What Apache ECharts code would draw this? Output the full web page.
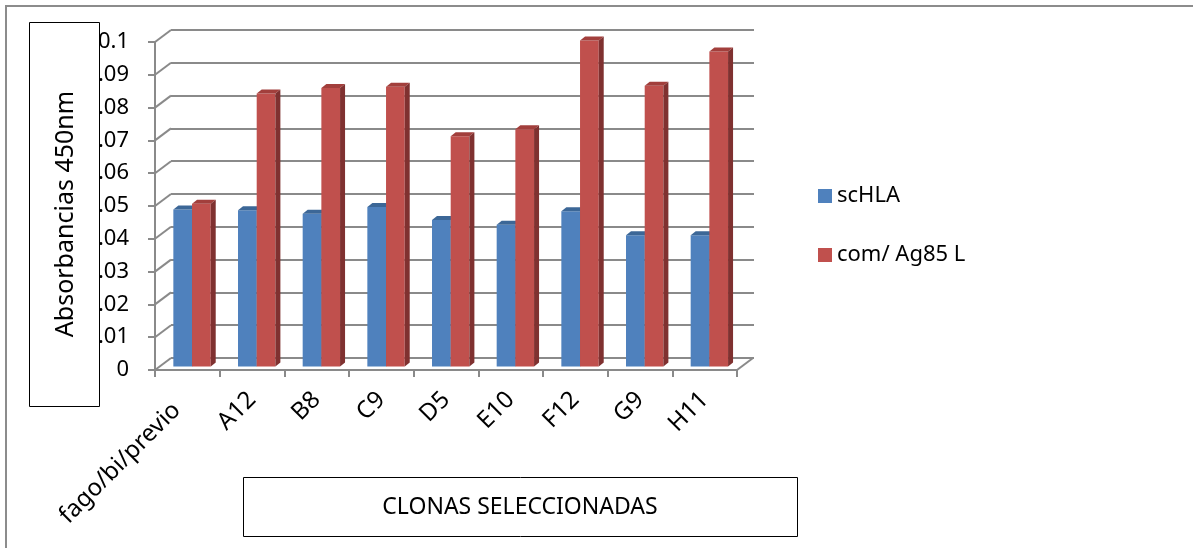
<!DOCTYPE html>
<html>
<head>
<meta charset="utf-8">
<script src="https://cdn.jsdelivr.net/npm/echarts@6/dist/echarts.min.js"></script>
<style>
  html, body { margin: 0; padding: 0; background: #fff; }
  #chart { width: 1193px; height: 548px; }
</style>
</head>
<body>
<div id="chart"></div>
<script>
// Absorbance at 450 nm for each selected clone
const categories = ['fago/bi/previo', 'A12', 'B8', 'C9', 'D5', 'E10', 'F12', 'G9', 'H11'];
const scHLA = [0.0479, 0.0476, 0.0466, 0.0486, 0.0447, 0.0432, 0.0473, 0.0400, 0.0400];
const ag85L = [0.0496, 0.0832, 0.0849, 0.0853, 0.0702, 0.0723, 0.0994, 0.0856, 0.0960];
const yTicks = [0, 0.01, 0.02, 0.03, 0.04, 0.05, 0.06, 0.07, 0.08, 0.09, 0.1];
const seriesNames = ['scHLA', 'com/ Ag85 L'];

const FONT = '"Noto Sans", "Open Sans", sans-serif';
const GRID_COLOR = '#8a8a8a';

// 3D depth of the plot box (back wall offset) and of each column
const WALL_DX = 16, WALL_DY = -12;
const BAR_SHIFT_X = 4.7, BAR_SHIFT_Y = -3.5;  // columns sit a little behind the front plane
const BAR_DX = 5, BAR_DY = -4;                // visible depth of each column

const palettes = [
  { front: '#4f81bd', top: '#3c6797', side: '#385d8a' },
  { front: '#c0504d', top: '#a23f3c', side: '#7f3130' }
];

function columnRenderer(slot, pal) {
  return function (params, api) {
    const cat = api.value(0);
    const v = api.value(1);
    const band = api.size([1, 0])[0];
    const w = band * 0.289;
    const c = api.coord([cat, v]);
    const b = api.coord([cat, 0]);
    const x0 = c[0] + (slot === 0 ? -w : 0) + BAR_SHIFT_X;
    const top = c[1] + BAR_SHIFT_Y;
    const base = b[1] + BAR_SHIFT_Y;
    return {
      type: 'group',
      children: [
        { type: 'rect', shape: { x: x0, y: top, width: w, height: base - top },
          style: { fill: pal.front } },
        { type: 'polygon', shape: { points: [[x0, top], [x0 + w, top], [x0 + w + BAR_DX, top + BAR_DY], [x0 + BAR_DX, top + BAR_DY]] },
          style: { fill: pal.top } },
        { type: 'polygon', shape: { points: [[x0 + w, top], [x0 + w + BAR_DX, top + BAR_DY], [x0 + w + BAR_DX, base + BAR_DY], [x0 + w, base]] },
          style: { fill: pal.side } }
      ]
    };
  };
}

// Short receding edges joining the front axis to the back wall
function edgeRenderer(side) {
  return function (params, api) {
    const c = api.coord([api.value(0), api.value(1)]);
    const half = api.size([1, 0])[0] / 2;
    const x = c[0] + (side === 'left' ? -half : half);
    return {
      type: 'line',
      shape: { x1: x, y1: c[1], x2: x + WALL_DX, y2: c[1] + WALL_DY },
      style: { stroke: GRID_COLOR, lineWidth: 2 }
    };
  };
}

const yLabel = v => (v === 0 ? '0' : String(Math.round(v * 100) / 100));

const chart = echarts.init(document.getElementById('chart'), null, { renderer: 'canvas' });

chart.setOption({
  animation: false,
  backgroundColor: '#ffffff',
  textStyle: { fontFamily: FONT },
  grid: [
    { left: 155, top: 42, width: 582, height: 328 },                          // front plane
    { left: 155 + WALL_DX, top: 42 + WALL_DY, width: 583, height: 328 }       // back wall
  ],
  xAxis: [
    {
      type: 'category', gridIndex: 0, boundaryGap: true,
      data: categories.map((c, i) => (i === 0 ? { value: c, textStyle: { padding: [0, 15, 0, 0] } } : c)),
      axisLine: { show: true, lineStyle: { color: GRID_COLOR, width: 2 } },
      axisTick: { show: true, interval: 0, length: 7, lineStyle: { color: GRID_COLOR, width: 2 } },
      axisLabel: { interval: 0, rotate: 45, margin: 26, color: '#000', fontSize: 24, fontFamily: FONT },
      splitLine: { show: false }
    },
    {
      type: 'category', gridIndex: 1, boundaryGap: true, data: categories,
      axisLine: { show: false }, axisTick: { show: false }, axisLabel: { show: false }, splitLine: { show: false }
    }
  ],
  yAxis: [
    {
      type: 'value', gridIndex: 0, min: 0, max: 0.1, interval: 0.01,
      axisLine: { show: true, lineStyle: { color: GRID_COLOR, width: 2 } },
      axisTick: { show: true, length: 7, lineStyle: { color: GRID_COLOR, width: 2 } },
      axisLabel: { margin: 26, color: '#000', fontSize: 22, fontFamily: FONT, formatter: yLabel },
      splitLine: { show: false }
    },
    {
      type: 'value', gridIndex: 1, min: 0, max: 0.1, interval: 0.01,
      axisLine: { show: false }, axisTick: { show: false }, axisLabel: { show: false },
      splitLine: { show: true, lineStyle: { color: GRID_COLOR, width: 2 } }
    }
  ],
  legend: {
    orient: 'vertical', left: 813, top: 178, itemWidth: 14, itemHeight: 14, itemGap: 33,
    icon: 'rect', data: seriesNames,
    textStyle: { color: '#000', fontSize: 22, fontFamily: FONT, lineHeight: 26 }
  },
  series: [
    {
      type: 'custom', name: 'edgesLeft', xAxisIndex: 0, yAxisIndex: 0, silent: true, z: 1,
      data: yTicks.map(v => [0, v]), renderItem: edgeRenderer('left')
    },
    {
      type: 'custom', name: 'edgeRight', xAxisIndex: 0, yAxisIndex: 0, silent: true, z: 1,
      data: [[categories.length - 1, 0]], renderItem: edgeRenderer('right')
    },
    {
      type: 'custom', name: seriesNames[0], xAxisIndex: 0, yAxisIndex: 0,
      itemStyle: { color: palettes[0].front },
      data: scHLA.map((v, i) => [i, v]), renderItem: columnRenderer(0, palettes[0])
    },
    {
      type: 'custom', name: seriesNames[1], xAxisIndex: 0, yAxisIndex: 0,
      itemStyle: { color: palettes[1].front },
      data: ag85L.map((v, i) => [i, v]), renderItem: columnRenderer(1, palettes[1])
    }
  ],
  graphic: [
    { type: 'rect', z: 100, shape: { x: 6, y: 6, width: 1200, height: 560 },
      style: { fill: 'none', stroke: '#8c8c8c', lineWidth: 2 } },
    { type: 'rect', z: 100, shape: { x: 29.5, y: 22.5, width: 70, height: 384 },
      style: { fill: '#fff', stroke: '#000', lineWidth: 1 } },
    { type: 'text', z: 101, x: 66, y: 214, rotation: Math.PI / 2,
      style: { text: 'Absorbancias 450nm', font: '25px ' + FONT, fill: '#000', textAlign: 'center', textVerticalAlign: 'middle' } },
    { type: 'rect', z: 100, shape: { x: 243.5, y: 477.5, width: 554, height: 59 },
      style: { fill: '#fff', stroke: '#000', lineWidth: 1 } },
    { type: 'text', z: 101, x: 520, y: 507,
      style: { text: 'CLONAS SELECCIONADAS', font: '23px ' + FONT, fill: '#000', textAlign: 'center', textVerticalAlign: 'middle' } }
  ]
});
</script>
</body>
</html>
